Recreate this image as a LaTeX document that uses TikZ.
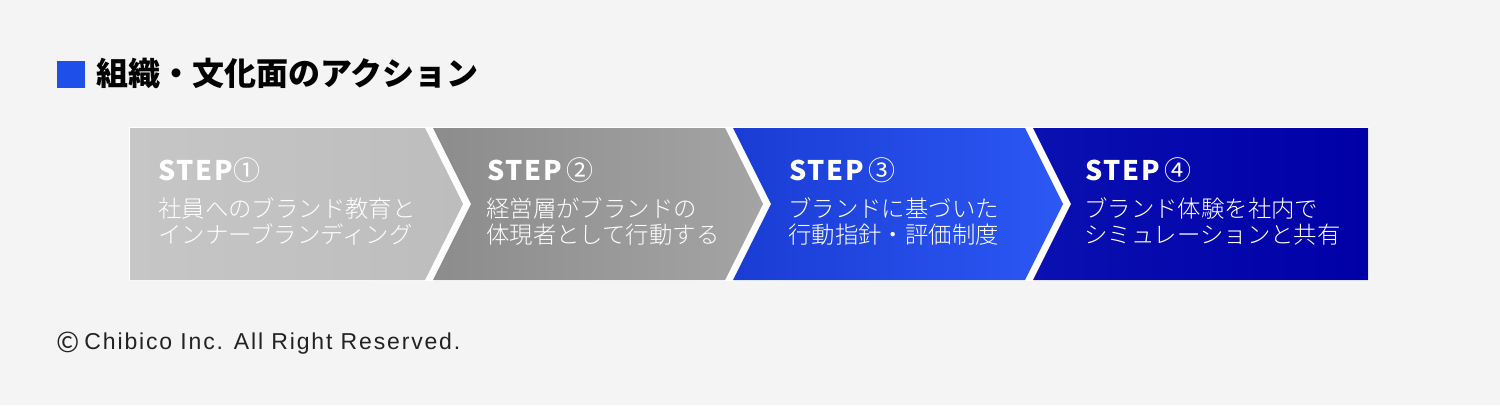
\documentclass[tikz,border=0pt]{standalone}
\usepackage{fontspec}
\setmainfont{Noto Sans CJK JP}
\newfontfamily\jplight{Noto Sans CJK JP Light}
\newfontfamily\latinfont{Liberation Sans}
\usetikzlibrary{shadings}
\definecolor{bg}{HTML}{F4F4F4}
\definecolor{titleblue}{HTML}{1E4FE8}
\definecolor{gA}{HTML}{C6C6C6}
\definecolor{gB}{HTML}{BDBDBD}
\definecolor{gC}{HTML}{8C8C8C}
\definecolor{gD}{HTML}{A4A4A4}
\definecolor{bA}{HTML}{1A3CD4}
\definecolor{bB}{HTML}{2C58F4}
\definecolor{nA}{HTML}{0A10B2}
\definecolor{nB}{HTML}{0000A6}
\definecolor{txt}{HTML}{222222}
\newcommand\stepnum[1]{{\mdseries\fontsize{27}{27}\selectfont #1}}
\begin{document}
\begin{tikzpicture}[x=1pt,y=-1pt,
  steptitle/.style={anchor=base west,inner sep=0pt,text=white,font=\fontsize{27}{28}\selectfont\bfseries\addfontfeatures{LetterSpace=7}},
  stepbody/.style={anchor=base west,inner sep=0pt,text=white,font=\jplight\fontsize{23.4}{26}\selectfont,align=left}]
\useasboundingbox (0,0) rectangle (1500,405);
\fill[bg] (0,0) rectangle (1500,405);
% title
\fill[titleblue] (57,61) rectangle (85,88);
\node[anchor=base west,inner sep=0pt,font=\fontsize{32}{32}\selectfont\bfseries,text=black] (title) at (96,85) {組織・文化面のアクション};
% chevrons
\fill[white] (129,127) rectangle (1369,281);
\shade[left color=gA,right color=gB] (130,128) -- (425,128) -- (463,204) -- (425,280) -- (130,280) -- cycle;
\shade[left color=gC,right color=gD] (433,128) -- (725,128) -- (763,204) -- (725,280) -- (433,280) -- (471,204) -- cycle;
\shade[left color=bA,right color=bB] (733,128) -- (1025,128) -- (1063,204) -- (1025,280) -- (733,280) -- (771,204) -- cycle;
\shade[left color=nA,right color=nB] (1033,128) -- (1368,128) -- (1368,280) -- (1033,280) -- (1071,204) -- cycle;
% texts
\node[steptitle] (s1) at (158,180) {STEP\stepnum{①}};
\node[stepbody] (b1a) at (158,217) {社員へのブランド教育と};
\node[stepbody] (b1b) at (158,243) {インナーブランディング};
\node[steptitle] (s2) at (487,180) {STEP\,\stepnum{②}};
\node[stepbody] (b2a) at (486,217) {経営層がブランドの};
\node[stepbody] (b2b) at (486,243) {体現者として行動する};
\node[steptitle] (s3) at (789,180) {STEP\,\stepnum{③}};
\node[stepbody] (b3a) at (788,217) {ブランドに基づいた};
\node[stepbody] (b3b) at (788,243) {行動指針・評価制度};
\node[steptitle] (s4) at (1085,180) {STEP\,\stepnum{④}};
\node[stepbody] (b4a) at (1084,217) {ブランド体験を社内で};
\node[stepbody] (b4b) at (1084,243) {シミュレーションと共有};
% copyright
\node[anchor=base west,inner sep=0pt,text=txt,font=\fontsize{23}{23}\selectfont] (copy) at (56,349) {\raisebox{-3pt}{\fontsize{28}{28}\selectfont ©}\hspace{5pt}{\latinfont\addfontfeatures{LetterSpace=8}Chibico Inc. All Right Reserved.}};
\end{tikzpicture}
\end{document}
